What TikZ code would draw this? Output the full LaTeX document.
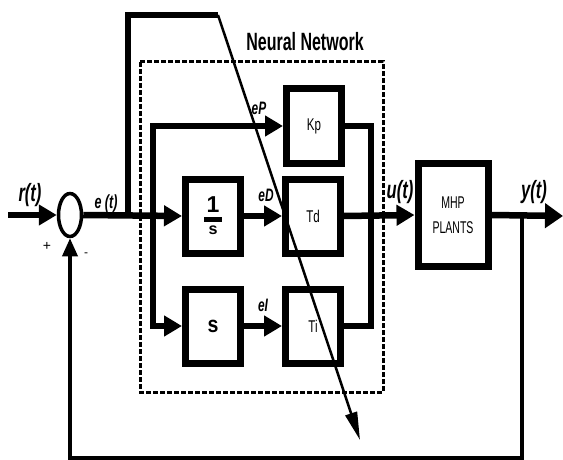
\documentclass[tikz,border=0pt]{standalone}
\usepackage{fontspec}
\setmainfont{Liberation Sans}
\setsansfont{Liberation Sans}
\usepackage{amsmath}
\usepackage{graphicx}
\usetikzlibrary{arrows.meta,shapes.geometric}
\newcommand{\nar}[2][0.68]{\scalebox{#1}[1]{#2}}
\newcommand{\fs}[1]{\fontsize{#1}{#1}\selectfont}

\begin{document}
\begin{tikzpicture}[x=1pt,y=-1pt,
  sig/.style={line width=6.5pt},
  sigarr/.style={line width=6.5pt,-{Triangle[length=18pt,width=20pt]}},
  blk/.style={draw,line width=7pt,minimum width=55pt,minimum height=74pt,inner sep=0pt},
  sumj/.style={draw,ellipse,line width=3.5pt,minimum width=23pt,minimum height=43pt,inner sep=0pt},
  lbl/.style={inner sep=0pt,font=\bfseries\itshape},
  fb/.style={line width=3.5pt},
  adapt/.style={line width=2.5pt,-{Triangle[length=28pt,width=12pt]}}]
  \useasboundingbox (0,0) rectangle (563,460);
  %
  \draw[line width=3pt,dash pattern=on 5pt off 2pt] (140,62) rectangle (383,392);
  \node[inner sep=0pt,font=\bfseries\fs{25}] (nnlabel) at (305,42) {\nar[0.64]{Neural Network}};
  %
  \node[sumj] (sum) at (70,215) {};
  \node[blk] (integ) at (213,216) {\fs{23}$\genfrac{}{}{4.5pt}{}{\makebox[18pt]{\textbf{1}}}{\textbf{s}}$};
  \node[blk] (deriv) at (213,326) {\fs{23}\textbf{\nar[0.85]{s}}};
  \node[blk] (Kp) at (314,126) {\fs{17}\nar[0.68]{Kp}};
  \node[blk] (Td) at (313,216) {\fs{17}\nar[0.68]{Td}};
  \node[blk] (Ti) at (313,326) {\fs{17}\nar[0.68]{Ti}};
  \node[draw,line width=7pt,minimum width=70pt,minimum height=103pt,inner sep=0pt,
        align=center,font=\fontsize{17}{25}\selectfont] (plant) at (453,215)
        {\nar[0.62]{MHP}\\\nar[0.62]{PLANTS}};
  %
  \coordinate (rin) at (8,215);
  \coordinate (nnin) at (128,216);
  \coordinate (nntop) at (218,15);
  \coordinate (nnend) at (360,440);
  \coordinate (br) at (153,216);
  \coordinate (col) at (371,216);
  \coordinate (yout) at (563,216);
  \coordinate (tap) at (522,216);
  \coordinate (fbr) at (522,458);
  %
  \draw[sigarr] (rin) -- (sum.west);
  \draw[sigarr] (sum.east) -- (integ.west);
  \draw[sig] (nnin) |- (nntop);
  \draw[adapt] (nntop) -- (nnend);
  \draw[sigarr] (br) |- (Kp.west);
  \draw[sigarr] (br) |- (deriv.west);
  \draw[sigarr] (integ.east) -- (Td.west);
  \draw[sigarr] (deriv.east) -- (Ti.west);
  \draw[sig] (Kp.east) -| (col);
  \draw[sig] (Ti.east) -| (col);
  \draw[sigarr] (Td.east) -- (plant.west);
  \draw[sig,-{Triangle[length=18pt,width=24pt]}] (plant.east) -- (yout);
  \draw[fb,-{Triangle[length=18pt,width=15pt]}] (tap) -- (fbr) -| (sum.south);
  %
  \node[lbl,font=\bfseries\itshape\fs{25}] (rlab) at (30,195) {\nar[0.66]{r(t)}};
  \node[lbl,font=\bfseries\itshape\fs{19}] (elab) at (106,204) {\nar[0.66]{e (t)}};
  \node[lbl,font=\bfseries\itshape\fs{18}] (eplab) at (259,108) {\nar[0.66]{eP}};
  \node[lbl,font=\bfseries\itshape\fs{18}] (edlab) at (266,195) {\nar[0.66]{eD}};
  \node[lbl,font=\bfseries\itshape\fs{18}] (eilab) at (263,305) {\nar[0.66]{eI}};
  \node[lbl,font=\bfseries\itshape\fs{25}] (ulab) at (400,192) {\nar[0.66]{u(t)}};
  \node[lbl,font=\bfseries\itshape\fs{25}] (ylab) at (534,192) {\nar[0.66]{y(t)}};
  \node[inner sep=0pt,font=\fs{14}] (plus) at (47,246) {+};
  \node[inner sep=0pt,font=\fs{12}] (minus) at (86,255) {-};
  %
\end{tikzpicture}
\end{document}
